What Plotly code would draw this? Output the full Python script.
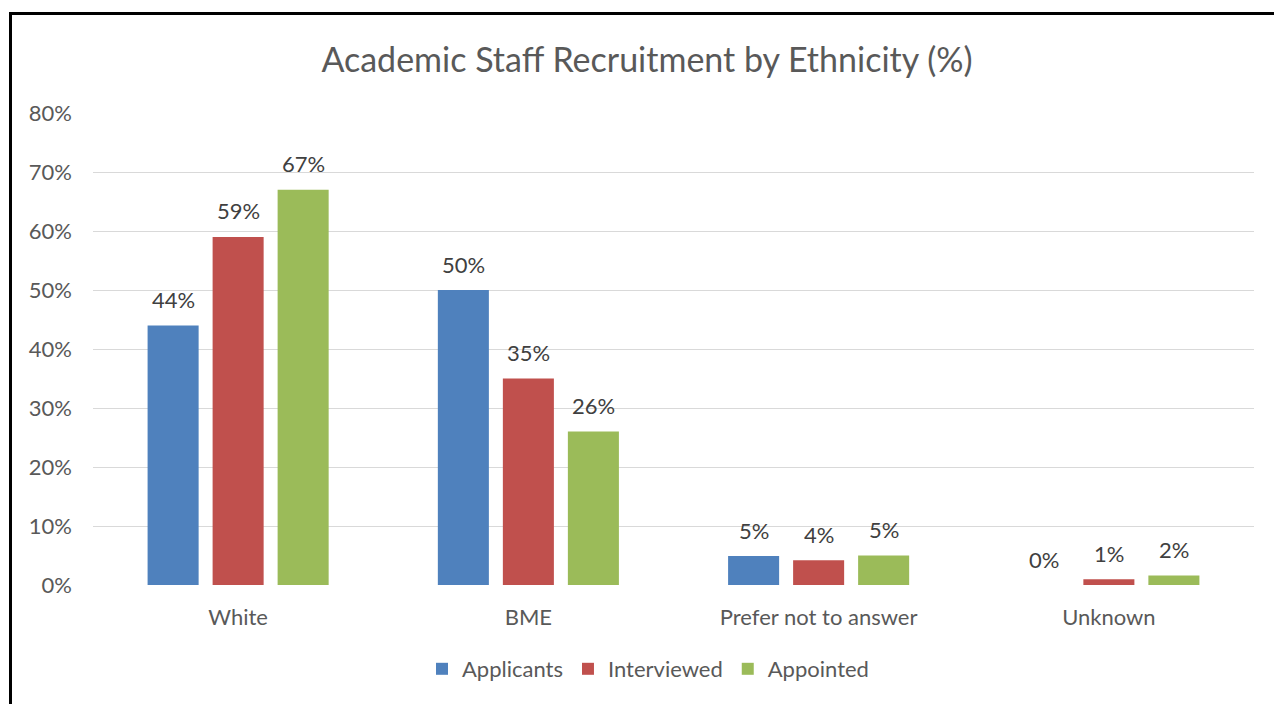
import plotly.graph_objects as go

categories = ["White", "BME", "Prefer not to answer", "Unknown"]
applicants = [0.44, 0.50, 0.049, 0.0]
interviewed = [0.59, 0.35, 0.042, 0.0097]
appointed = [0.67, 0.26, 0.05, 0.016]
series_names = ["Applicants", "Interviewed", "Appointed"]
colors = ["#4F81BD", "#C0504D", "#9BBB59"]

W, H = 1274, 704
ML, MR, MT, MB = 93, 20, 113, 119
PW = W - ML - MR
PH = H - MT - MB
BARGAP = 0.328
GROUPGAP = 0.215
FONT = "Lato"

fig = go.Figure()
series = [applicants, interviewed, appointed]
for name, vals, col in zip(series_names, series, colors):
    fig.add_trace(go.Bar(
        x=categories, y=vals, name=name,
        marker=dict(color=col, line=dict(width=0)),
        hoverinfo="skip",
    ))

# data labels
cat_w = PW / len(categories)
slot = cat_w * (1 - BARGAP) / len(series)
annotations = []
for i, vals in enumerate(series):
    for c, v in zip(categories, vals):
        annotations.append(dict(
            x=c, y=v, xref="x", yref="y",
            text=f"{v:.0%}", showarrow=False,
            xshift=(i - 1) * slot, yshift=26, yanchor="middle",
            font=dict(family=FONT, size=22, color="#404040"),
        ))

# border lines (left and top)
lx = (10.5 - ML) / PW
ty = (H - MB - 13.5) / PH
shapes = [
    dict(type="line", xref="paper", yref="paper", x0=lx, x1=lx, y0=-0.4, y1=ty + 1.5 / PH,
         line=dict(color="black", width=3)),
    dict(type="line", xref="paper", yref="paper", x0=lx - 1.5 / PW, x1=1.1, y0=ty, y1=ty,
         line=dict(color="black", width=3)),
]

fig.update_layout(
    width=W, height=H,
    margin=dict(l=ML, r=MR, t=MT, b=MB, autoexpand=False),
    paper_bgcolor="white", plot_bgcolor="white",
    barmode="group", bargap=BARGAP, bargroupgap=GROUPGAP,
    title=dict(text="Academic Staff Recruitment by Ethnicity (%)",
               x=647 / W, xanchor="center", y=1 - 60 / H, yanchor="middle",
               yref="container", xref="container",
               font=dict(family=FONT, size=34, color="#595959")),
    font=dict(family=FONT, color="#595959"),
    showlegend=True,
    legend=dict(orientation="h", x=(648 - ML) / PW, xanchor="center",
                y=(H - MB - 669) / PH, yanchor="middle",
                font=dict(family=FONT, size=22, color="#595959"),
                itemclick=False, itemdoubleclick=False),
    annotations=annotations,
    shapes=shapes,
)
fig.update_yaxes(range=[0, 0.8], dtick=0.1, tickformat=".0%",
                 showgrid=True, gridcolor="#D9D9D9", gridwidth=1,
                 zeroline=False, showline=False, ticks="",
                 ticklabelstandoff=20,
                 tickfont=dict(family=FONT, size=22, color="#595959"),
                 fixedrange=True)
fig.update_xaxes(showgrid=False, showline=False, ticks="", zeroline=False,
                 ticklabelstandoff=17,
                 tickfont=dict(family=FONT, size=22, color="#595959"),
                 fixedrange=True)

fig.write_html("out.html", config={"displayModeBar": False})
